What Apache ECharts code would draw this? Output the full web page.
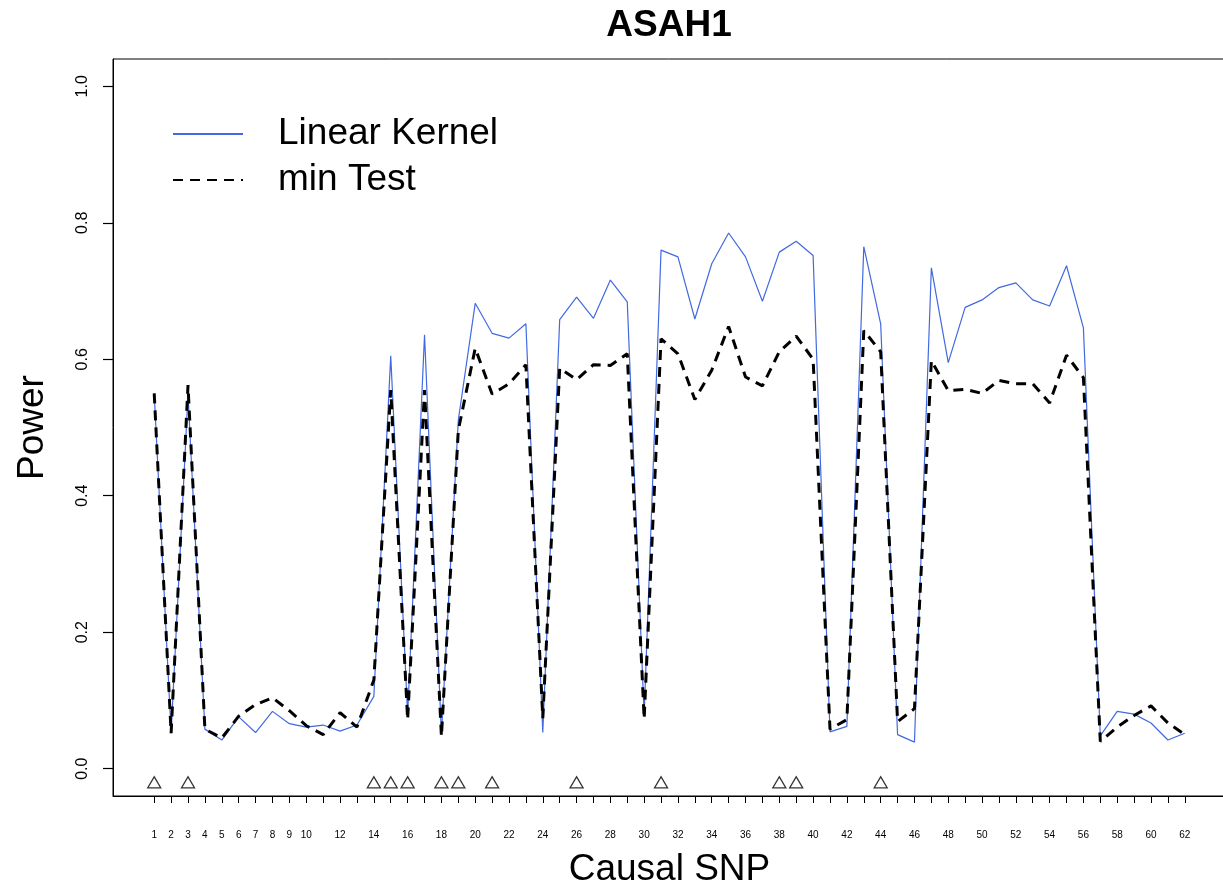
<!DOCTYPE html>
<html><head><meta charset="utf-8">
<script src="https://cdn.jsdelivr.net/npm/echarts@6/dist/echarts.min.js"></script>
<style>html,body{margin:0;padding:0;background:#fff}#c{width:1223px;height:890px}</style>
</head><body><div id="c"></div>
<script>
const snps = [1,2,3,4,5,6,7,8,9,10,11,12,13,14,15,16,17,18,19,20,21,22,23,24,25,26,27,28,29,30,31,32,33,34,35,36,37,38,39,40,41,42,43,44,45,46,47,48,49,50,51,52,53,54,55,56,57,58,59,60,61,62];
const linearKernel = [0.550,0.052,0.548,0.058,0.042,0.076,0.053,0.084,0.066,0.061,
  0.064,0.055,0.064,0.106,0.605,0.079,0.636,0.050,0.511,0.682,
  0.638,0.631,0.652,0.053,0.658,0.691,0.660,0.716,0.684,0.078,
  0.760,0.750,0.659,0.740,0.785,0.750,0.685,0.757,0.773,0.752,
  0.054,0.062,0.765,0.652,0.050,0.039,0.734,0.595,0.676,0.687,
  0.705,0.712,0.687,0.678,0.737,0.646,0.048,0.084,0.080,0.067,
  0.042,0.052];
const minTest = [0.550,0.052,0.562,0.058,0.045,0.077,0.094,0.104,0.085,0.063,
  0.050,0.082,0.061,0.130,0.555,0.072,0.555,0.047,0.496,0.616,
  0.549,0.564,0.592,0.074,0.587,0.570,0.592,0.591,0.608,0.073,
  0.630,0.608,0.541,0.584,0.648,0.574,0.561,0.611,0.634,0.600,
  0.058,0.072,0.642,0.611,0.069,0.088,0.598,0.554,0.556,0.550,
  0.569,0.564,0.564,0.536,0.606,0.573,0.040,0.061,0.078,0.092,
  0.067,0.050];
const causalSnps = [1,3,14,15,16,18,19,21,26,31,38,39,44];
const causalLevel = -0.02;
const yTicks = [0,0.2,0.4,0.6,0.8,1.0];
const xTickLabels = [1,2,3,4,5,6,7,8,9,10,12,14,16,18,20,22,24,26,28,30,32,34,36,38,40,42,44,46,48,50,52,54,56,58,60,62];

const FONT = '"Liberation Sans", Arial, Helvetica, sans-serif';
const chart = echarts.init(document.getElementById('c'), null, {renderer:'canvas'});
chart.setOption({
  animation: false,
  backgroundColor: '#fff',
  textStyle: {fontFamily: FONT},
  grid: {left:113, top:59, width:1113, height:737, outerBoundsMode:'none', containLabel:false,
    show:true, borderColor:'#000', borderWidth:1, backgroundColor:'transparent'},
  xAxis: {
    type:'value', min:-1.44, max:64.44, position:'bottom',
    name:'Causal SNP', nameLocation:'middle', nameGap:55,
    nameTextStyle:{fontSize:37, color:'#000', fontFamily:FONT},
    axisLine:{show:true, onZero:false, lineStyle:{color:'#000', width:1}}, splitLine:{show:false},
    axisTick:{show:true, inside:false, length:7, lineStyle:{color:'#000', width:1}, customValues:snps},
    axisLabel:{customValues:xTickLabels, fontSize:10, color:'#000', margin:34, fontFamily:FONT}
  },
  yAxis: {
    type:'value', min:-0.04, max:1.04, position:'left',
    name:'Power', nameLocation:'middle', nameGap:62, nameRotate:90,
    nameTextStyle:{fontSize:37, color:'#000', fontFamily:FONT},
    axisLine:{show:true, onZero:false, lineStyle:{color:'#000', width:1}}, splitLine:{show:false},
    axisTick:{show:true, inside:false, length:10, lineStyle:{color:'#000', width:1.2}, customValues:yTicks},
    axisLabel:{customValues:yTicks, rotate:90, fontSize:16, color:'#000', margin:22, fontFamily:FONT,
      formatter: v => Number(v).toFixed(1)}
  },
  legend: {
    orient:'vertical', left:172, top:111, padding:0, itemWidth:70, itemHeight:14, itemGap:0,
    itemStyle:{color:'rgba(0,0,0,0)', borderWidth:0, opacity:0},
    textStyle:{fontSize:37, color:'#000', lineHeight:46, padding:[0,0,0,30], fontFamily:FONT},
    data:[{name:'Linear Kernel'},{name:'min Test'}]
  },
  graphic: [{
    type:'text', x:669, y:26,
    style:{text:'ASAH1', fontSize:37, fontWeight:'bold', fontFamily:FONT, fill:'#000', align:'center', verticalAlign:'middle'}
  }],
  series: [
    {type:'line', name:'Linear Kernel', data: snps.map((s,i)=>[s, linearKernel[i]]), symbol:'none',
     lineStyle:{color:'#4169E1', width:1.2}, itemStyle:{color:'#4169E1'}, z:2},
    {type:'line', name:'min Test', data: snps.map((s,i)=>[s, minTest[i]]), symbol:'none',
     lineStyle:{color:'#000', width:3, type:[10,7]}, itemStyle:{color:'#000'}, z:3},
    {type:'scatter', name:'causal', data: causalSnps.map(s=>[s, causalLevel]), symbol:'triangle', symbolSize:[13,11],
     itemStyle:{color:'rgba(0,0,0,0)', borderColor:'#000', borderWidth:1.3}, z:4, silent:true}
  ]
});
</script></body></html>
